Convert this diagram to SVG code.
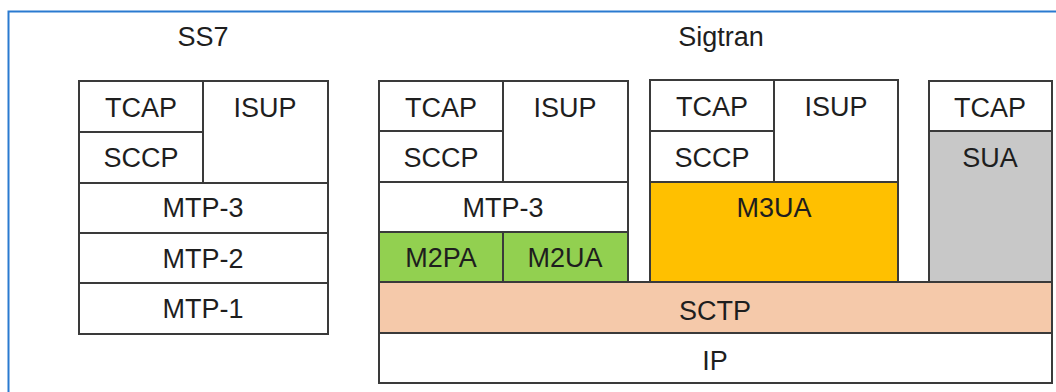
<svg xmlns="http://www.w3.org/2000/svg" width="1056" height="392" viewBox="0 0 1056 392">
<style>
.b{stroke:#3a3a3a;stroke-width:2;fill:#ffffff}
.g{fill:#92D050}.o{fill:#FFC000}.p{fill:#F5C9AA}.s{fill:#C8C8C8}
text{font-family:"Liberation Sans",Arial,sans-serif;font-size:27px;fill:#1e1e1e;text-anchor:middle}
</style>
<rect x="0" y="0" width="1056" height="392" fill="#ffffff"/>
<path d="M8.5 400 V11.5 H1060" fill="none" stroke="#2a7ad0" stroke-width="2"/>
<text x="203" y="46">SS7</text>
<text x="721" y="46">Sigtran</text>
<g id="ss7">
  <rect class="b" x="79" y="81" width="124" height="51"/><text x="141" y="117">TCAP</text>
  <rect class="b" x="79" y="132" width="124" height="51"/><text x="141" y="167">SCCP</text>
  <rect class="b" x="203" y="81" width="125" height="102"/><text x="265" y="117">ISUP</text>
  <rect class="b" x="79" y="183" width="249" height="50"/><text x="203" y="217">MTP-3</text>
  <rect class="b" x="79" y="233" width="249" height="50"/><text x="203" y="268">MTP-2</text>
  <rect class="b" x="79" y="283" width="249" height="51"/><text x="203" y="318">MTP-1</text>
</g>
<g id="sig1">
  <rect class="b" x="379" y="81" width="124" height="50"/><text x="441" y="117">TCAP</text>
  <rect class="b" x="379" y="131" width="124" height="51"/><text x="441" y="167">SCCP</text>
  <rect class="b" x="503" y="81" width="125" height="101"/><text x="565" y="117">ISUP</text>
  <rect class="b" x="379" y="182" width="249" height="50"/><text x="503" y="217">MTP-3</text>
  <rect class="b g" x="379" y="232" width="124" height="50"/><text x="441" y="267">M2PA</text>
  <rect class="b g" x="503" y="232" width="125" height="50"/><text x="565" y="267">M2UA</text>
</g>
<g id="sig2">
  <rect class="b" x="650" y="80" width="124" height="51"/><text x="712" y="116">TCAP</text>
  <rect class="b" x="650" y="131" width="124" height="51"/><text x="712" y="167">SCCP</text>
  <rect class="b" x="774" y="80" width="124" height="102"/><text x="836" y="116">ISUP</text>
  <rect class="b o" x="650" y="182" width="248" height="100"/><text x="774" y="217">M3UA</text>
</g>
<g id="sig3">
  <rect class="b" x="929" y="81" width="123" height="50"/><text x="990" y="117">TCAP</text>
  <rect class="b s" x="929" y="131" width="123" height="151"/><text x="990" y="167">SUA</text>
</g>
<g id="transport">
  <rect class="b p" x="379" y="282" width="673" height="51"/><text x="715" y="320">SCTP</text>
  <rect class="b" x="379" y="333" width="673" height="50"/><text x="715" y="370">IP</text>
</g>
<g id="connectors"/>
</svg>
